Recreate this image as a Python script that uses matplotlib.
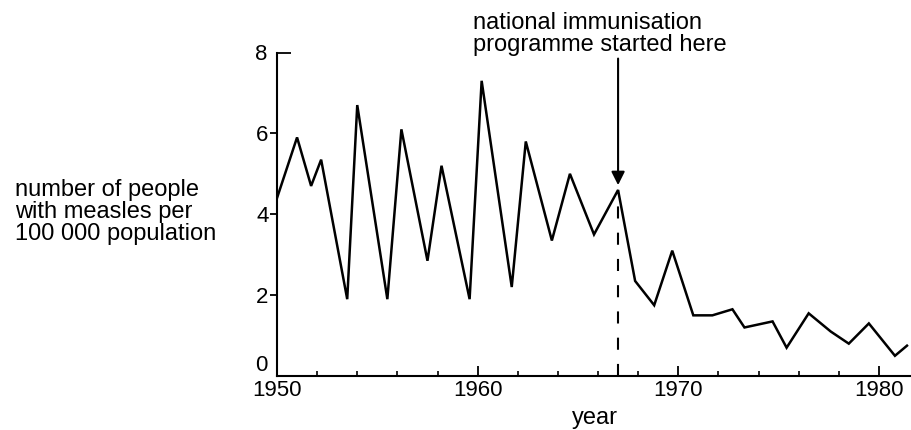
import numpy as np
import matplotlib
matplotlib.use("Agg")
import matplotlib.pyplot as plt

# measles cases per 100 000 population
years = [1950.0, 1951.0, 1951.7, 1952.2, 1953.5, 1954.0, 1955.5, 1956.2,
         1957.5, 1958.2, 1959.6, 1960.2, 1961.7, 1962.4, 1963.7, 1964.6,
         1965.8, 1967.0, 1967.85, 1968.8, 1969.7, 1970.75, 1971.7, 1972.7,
         1973.3, 1974.7, 1975.4, 1976.5, 1977.6, 1978.5, 1979.5, 1980.8,
         1981.4]
cases = [4.4, 5.9, 4.7, 5.35, 1.9, 6.7, 1.9, 6.1,
         2.85, 5.2, 1.9, 7.3, 2.2, 5.8, 3.35, 5.0,
         3.5, 4.6, 2.35, 1.75, 3.1, 1.5, 1.5, 1.65,
         1.2, 1.35, 0.7, 1.55, 1.1, 0.8, 1.3, 0.5,
         0.75]
programme_year = 1967.0
major_years = [1950, 1960, 1970, 1980]
minor_years = [y for y in range(1952, 1980, 2) if y % 10] + [1967]
y_major = [2, 4, 6]
y_minor = [0, 8]

plt.rcParams["font.family"] = ["Liberation Sans", "DejaVu Sans"]

fig = plt.figure(figsize=(9.12, 4.30), dpi=100)
ax = fig.add_axes([277 / 912, 54 / 430, 1 - 277 / 912, 323.5 / 430])

ax.plot(years, cases, color="black", lw=1.8, solid_joinstyle="miter")

peak = cases[years.index(programme_year)]
ax.vlines(programme_year, 0, peak, colors="black", lw=1.5,
          linestyles=(0, (5.8, 6.8)))
ax.annotate("", xy=(programme_year, peak + 0.12), xytext=(programme_year, 7.85),
            arrowprops=dict(arrowstyle="-|>", lw=1.5, color="black",
                            mutation_scale=20, shrinkA=0, shrinkB=0),
            annotation_clip=False)
ax.annotate("national immunisation\nprogramme started here",
            xy=(programme_year, 8), xycoords="data",
            xytext=(-145, -4), textcoords="offset pixels",
            ha="left", va="bottom", fontsize=17, linespacing=1.05,
            annotation_clip=False)

ax.set_xlim(1950, 1981.65)
ax.set_ylim(0, 8)
for side in ("top", "right"):
    ax.spines[side].set_visible(False)
for side in ("left", "bottom"):
    ax.spines[side].set_linewidth(1.5)

ax.set_xticks(major_years)
ax.set_xticks(minor_years, minor=True)
ax.tick_params(axis="x", which="major", direction="in", length=7, width=1.3,
               labelsize=16, pad=3)
ax.tick_params(axis="x", which="minor", direction="in", length=3.5, width=1.2)

ax.set_yticks(y_major)
ax.set_yticks(y_minor, labels=[str(v) for v in y_minor], minor=True)
ax.tick_params(axis="y", which="major", direction="out", length=5, width=1.3,
               labelsize=16, pad=1)
ax.tick_params(axis="y", which="minor", direction="in", length=10, width=1.3,
               labelsize=16, pad=7)
# the "0" sits just above the x axis so it clears "1950"
ax.yaxis.get_minor_ticks()[0].label1.set_verticalalignment("bottom")

ax.set_xlabel("year", fontsize=17, labelpad=4)

fig.text(15 / 912, 1 - 212 / 430,
         "number of people\nwith measles per\n100 000 population",
         ha="left", va="center", fontsize=17, linespacing=1.0)

fig.savefig("out.png", dpi=100)
